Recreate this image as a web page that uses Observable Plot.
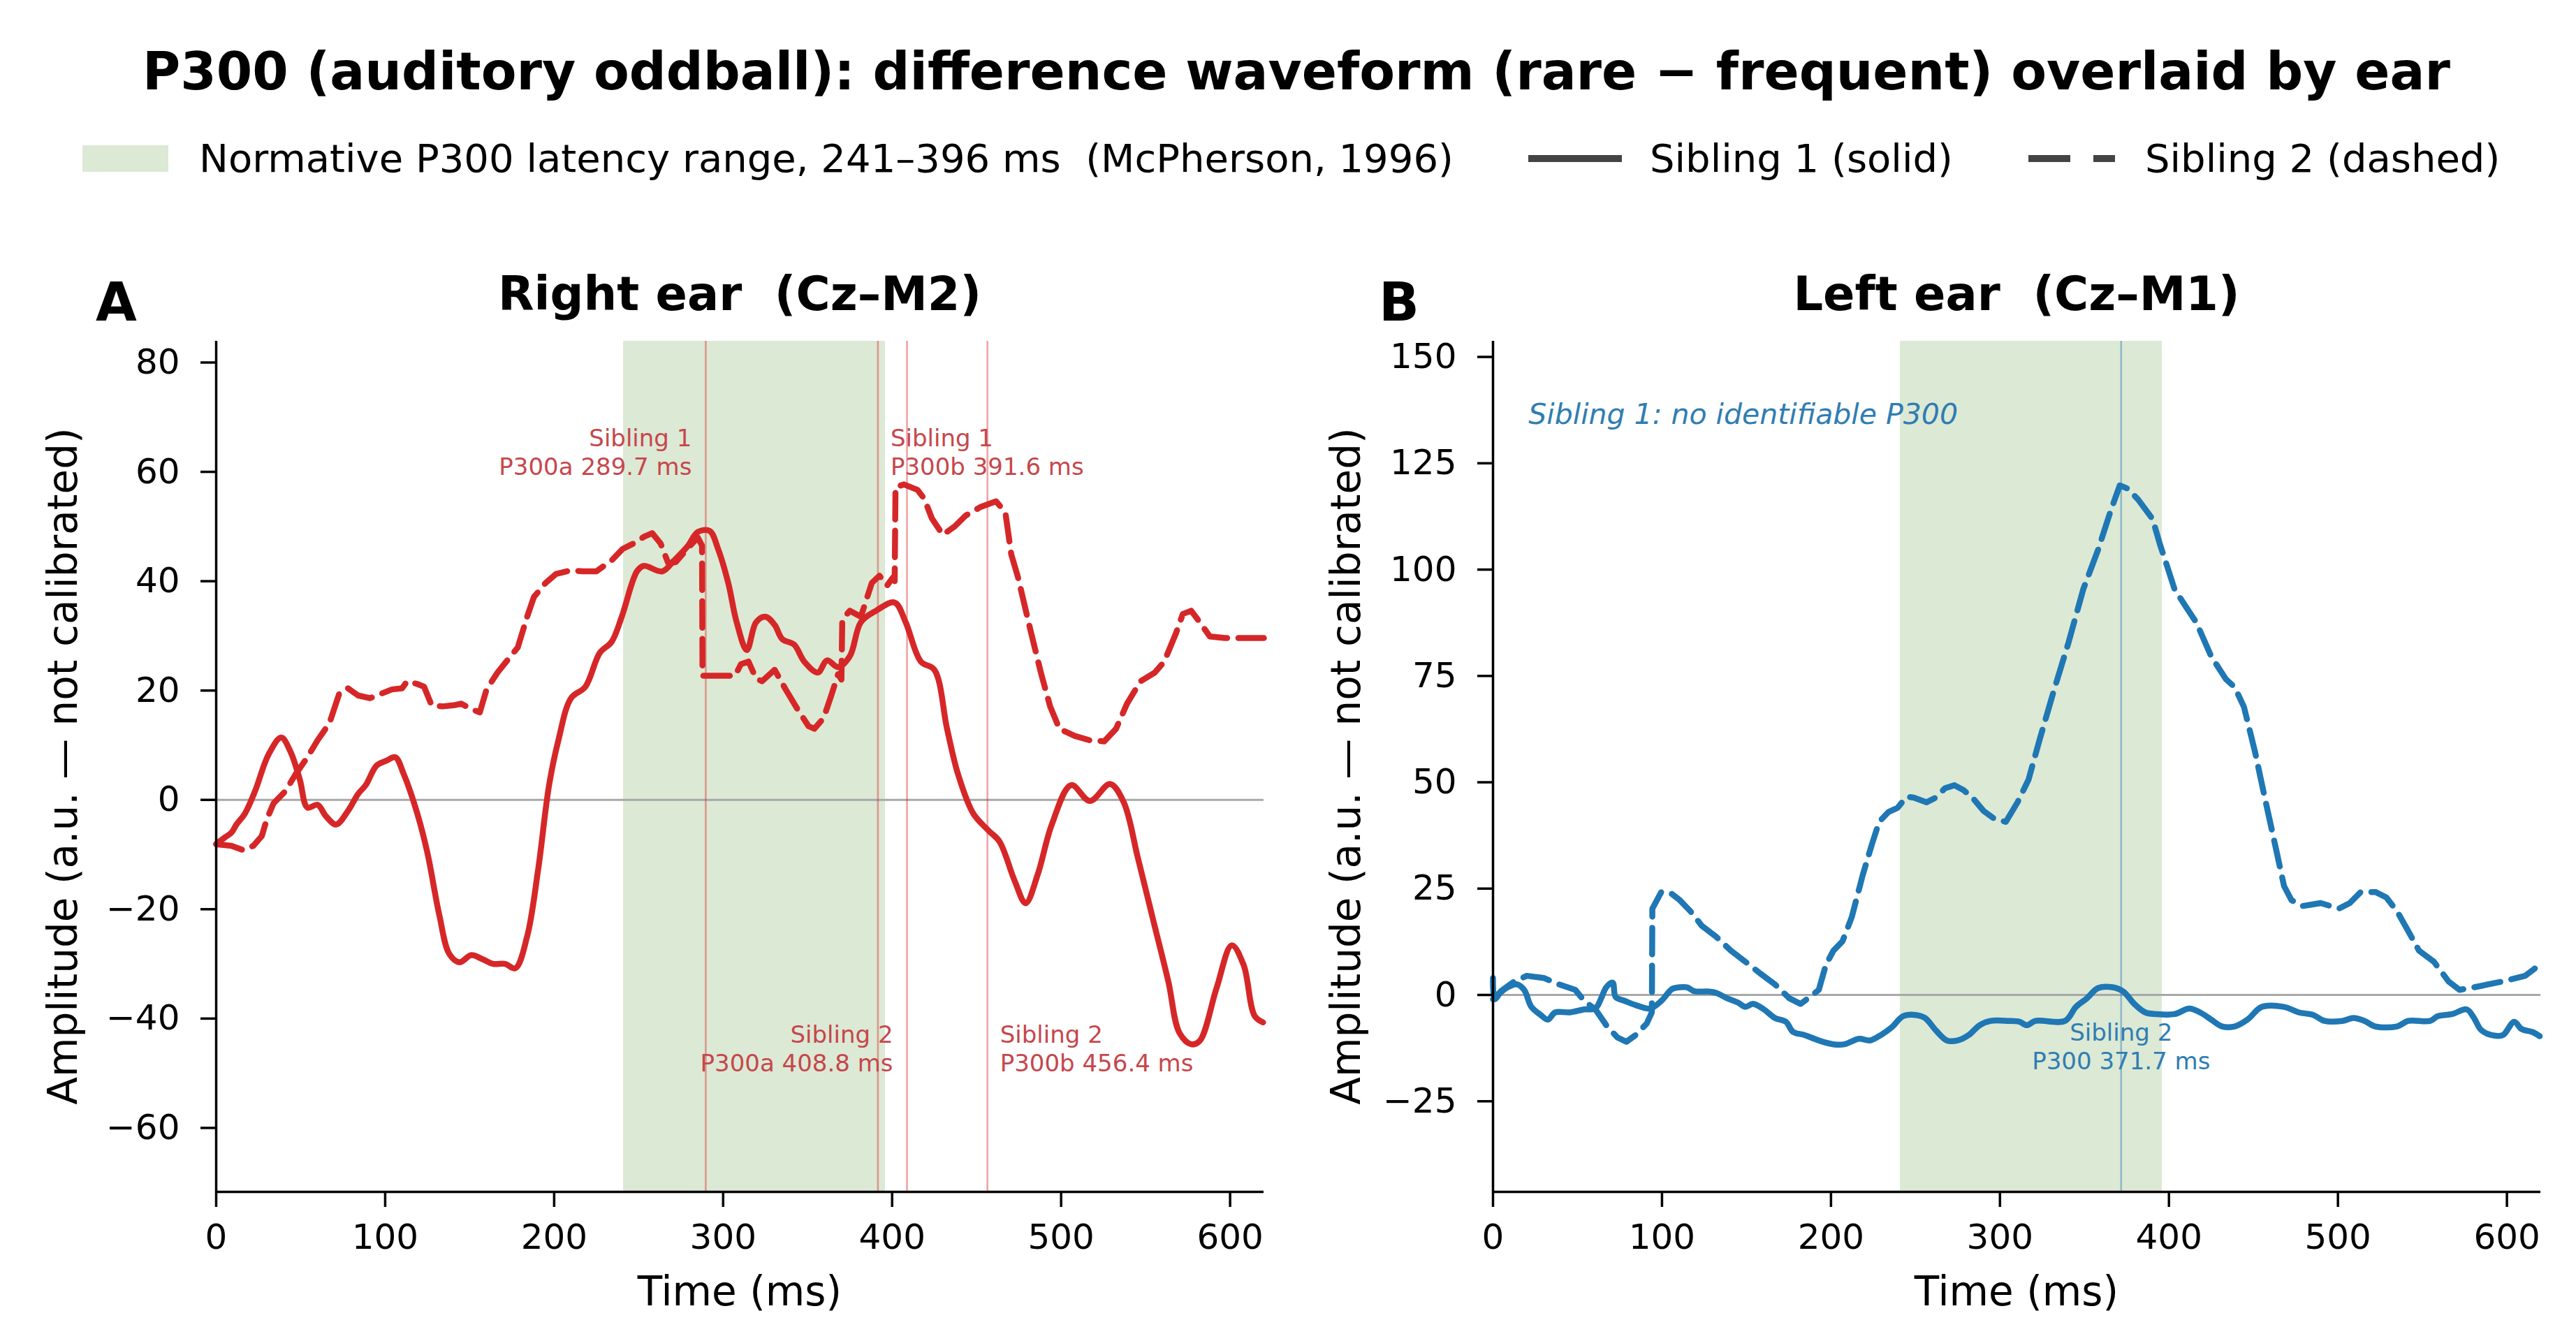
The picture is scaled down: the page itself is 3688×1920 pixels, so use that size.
<!DOCTYPE html>
<html><head><meta charset="utf-8">
<script src="https://cdn.jsdelivr.net/npm/d3@7"></script>
<script src="https://cdn.jsdelivr.net/npm/@observablehq/plot@0.6"></script>
<style>
html,body{margin:0;padding:0;background:#fff;}
#root{position:relative;width:3688px;height:1920px;overflow:hidden;font-family:"DejaVu Sans";color:#000;background:#fff;}
.t{position:absolute;white-space:pre;line-height:1;}
.panel{position:absolute;}
</style></head><body><div id="root"></div>
<script>
// ---------------- data ----------------
const xTicks = [0, 100, 200, 300, 400, 500, 600];
const xDomain = [0, 620];
const normRange = [241, 396];

// Right ear (Cz–M2), [time ms, amplitude a.u.]
const rightEarSib1 = [[0,-8.1],[5,-6.9],[9,-6],[12,-4.5],[17,-2.5],[23,1.6],[31,8.3],[38.5,11.4],[44,8.8],[49.5,3.7],[54,-1.4],[60,-0.9],[65,-3],[71,-4.5],[78,-2],[84,1.1],[88.5,2.7],[95,6.3],[101,7.2],[106,7.8],[111,4.7],[119,-2.5],[125,-9.7],[132,-21],[138,-28.2],[144,-29.7],[151,-28.4],[158,-29.2],[164,-30],[171,-30],[177,-30.8],[184,-25],[190.5,-12.8],[197,2.7],[202.5,10.9],[210,18.6],[218.5,20.7],[227,26.9],[234,28.9],[240,33.5],[249,41.8],[253,42.8],[264,41.8],[271,43.8],[279,46.4],[285,49],[292,49.2],[297,45.9],[303,39.7],[308,32.5],[314,27.4],[319.5,32.5],[325,33.5],[330.5,32],[335,29.4],[342,28.4],[348,25.3],[356,23.3],[361.5,25.5],[368,24.3],[375,26.3],[381.5,32.5],[390.5,34.6],[401.5,36.1],[408,32.5],[417,25.3],[425,23.8],[432.5,13],[439,4.7],[448,-2.5],[457,-5.6],[463.5,-7.6],[472.5,-14.8],[479,-18.9],[486,-13.8],[494.5,-4.5],[506,2.7],[517,-0.2],[529,2.9],[537,-0.4],[545.5,-10.7],[554.5,-22],[563.5,-33.3],[570,-42.6],[577,-44.7],[582,-44.1],[592,-34.4],[601,-26.6],[608,-30.2],[614.5,-39.5],[619.5,-40.7]];
const rightEarSib2 = [[0,-8.1],[9,-8.4],[16,-9.2],[22,-8.4],[27,-6.6],[30,-3.5],[34,-0.6],[41,1.6],[47,4.7],[54,7.8],[60,10.9],[67,14],[73,19.6],[78,20.4],[84,19.1],[91,18.6],[104,20.2],[110,20.4],[113,21.7],[119,21.2],[123,20.7],[127.5,17.3],[134,17.1],[140.5,17.3],[145,17.6],[151,16.6],[156,16],[160,20.2],[166.5,23.3],[173,25.8],[178.5,27.9],[184,33.5],[188,37.1],[195,39.7],[201,41.3],[210,42],[217,41.8],[225,41.8],[234,43.8],[240.5,45.9],[247,46.9],[253,48.1],[258,48.8],[263,46.9],[267.5,43.3],[272,43.5],[279,46],[285,48],[287.5,46.5],[287.8,22.7],[296,22.7],[307,22.7],[310.5,24.8],[315,25.3],[319.5,22.2],[323,21.7],[330.5,23.8],[337,20.2],[344,16.6],[350.5,13.5],[354,13],[359.5,15],[364,19.1],[368,23],[370,22],[370.5,33],[375,34.6],[381.5,33.5],[388,39.7],[392.5,41],[397,39.2],[400.5,40.7],[401.5,40],[402,57.2],[407,57.7],[415,56.7],[419,55.1],[423.5,51.5],[430,48.5],[437,50],[443.5,52],[452.5,53.6],[457,54.1],[461.5,54.6],[467,52.6],[470.5,44.9],[474.5,40.7],[481.5,31.5],[488,23.3],[493.5,17.1],[499,13],[508,11.7],[517,10.9],[525.5,10.7],[532.5,13],[539,17.6],[547,21.7],[555.5,23.3],[561,25.3],[568,30.5],[572,34],[577,34.6],[582,32.5],[588,29.9],[597,29.6],[620,29.6]];

// Left ear (Cz–M1), [time ms, amplitude a.u.]
const leftEarSib1 = [[0,4],[1,-1],[4.3,0.5],[8.7,1.8],[14,2.5],[18.4,1.2],[22.7,-2.8],[28.2,-4.7],[32.5,-5.8],[36.8,-4.1],[45.5,-4.1],[54,-3.4],[60.5,-3.2],[64,-0.8],[67,1.8],[70.8,2.9],[72.6,-0.5],[78,-1.4],[84.5,-2.4],[93,-3.2],[99.6,-1.4],[106,1.4],[110.5,1.8],[114.8,1.8],[119,0.9],[127.8,0.8],[132,0.5],[138.6,-0.8],[145,-1.8],[149.4,-2.8],[153.8,-2.1],[160.3,-3.4],[166.8,-5.4],[173.3,-6.3],[177.6,-8.7],[184.1,-9.4],[192.8,-10.7],[201.4,-11.6],[208,-11.6],[216.6,-10.3],[223,-10.7],[229.6,-9.4],[236,-7.6],[242.6,-5],[250,-4.7],[255.6,-5.4],[262,-8.3],[268.6,-10.7],[275,-10.7],[281.6,-9.4],[288,-7.1],[294.6,-6.1],[305,-6.1],[311.5,-6.3],[315.8,-7.1],[321,-6.1],[338.5,-6.1],[345,-2.8],[351.4,-0.8],[358,1.6],[366.6,1.8],[373,0.8],[379.5,-2.1],[386,-4.1],[392.5,-4.5],[403.3,-4.5],[412,-3.2],[418.4,-4.1],[425,-5.8],[431.4,-7.4],[439,-7.4],[446.5,-5.8],[455,-2.8],[468,-2.8],[476.8,-4.1],[485.4,-4.7],[492,-6.1],[502.7,-6.1],[509.2,-5.4],[515.7,-6.1],[522,-7.4],[535,-7.4],[541.6,-6.1],[554.6,-6.1],[559,-5],[567.6,-4.5],[576.2,-3.4],[580.5,-5.4],[584.9,-8.3],[593.5,-9.6],[597.8,-9.4],[604.3,-6.3],[608.6,-8],[615,-8.7],[619.4,-9.7]];
const leftEarSib2 = [[0,-1],[5,1],[12,3],[20,4.5],[30,4],[39,2.5],[48.7,1.2],[54,-1.4],[60.6,-3.4],[67,-7.1],[73.6,-10],[79,-11],[84.5,-9.4],[91,-6.7],[94,-4.1],[94.3,20.3],[99.6,24.2],[105,24],[110.5,22.3],[117,19.6],[123.5,16.3],[132,13.7],[140.8,10.4],[149.4,7.8],[158,5.1],[166.8,2.5],[175.4,-0.8],[182,-2.1],[187.4,-0.5],[192.8,1.2],[197,7.1],[201.4,10.4],[206.8,12.6],[212.3,18.3],[218.8,28.2],[224.2,35.4],[228.5,40.7],[234,43],[239.4,44],[244.7,46.6],[249,46.4],[256.6,45.3],[262,46.4],[267.5,48.6],[273,49.3],[278.3,48.2],[283.7,46.4],[290.2,43.3],[296.7,41.4],[303.5,40.7],[310.4,45.3],[316.9,50.6],[323.3,59.8],[332,71.7],[340.6,82.9],[349.3,95.4],[358,104.6],[365.5,113.8],[370.9,119.8],[375.2,119.1],[381.7,116.5],[390.3,111.9],[394.7,105.9],[399,100.7],[403.3,95.4],[409.8,91.4],[416.3,87.5],[425,79.6],[433.6,74.3],[439,72.3],[444.4,67.7],[450.9,57.2],[457.3,45.3],[463.8,33.5],[468.1,25.6],[472.5,22.3],[479,20.9],[489.8,21.6],[500.6,20.3],[507,21.6],[513.5,24.2],[522.2,24.2],[528.7,22.9],[535.1,19.6],[541.6,15],[548,10.4],[556.8,7.8],[565.4,3.2],[571.9,1.2],[580.5,1.8],[597.8,3.2],[610.8,4.5],[619.4,7.1]];

// y axes
const rightEarYDomain = [-71.7, 83.9];
const rightEarYTicks = [-60, -40, -20, 0, 20, 40, 60, 80];
const leftEarYDomain = [-46.3, 153.7];
const leftEarYTicks = [-25, 0, 25, 50, 75, 100, 125, 150];

// peak latencies
const rightEarPeaks = [
  {sibling: "Sibling 1", name: "P300a", t: 289.7},
  {sibling: "Sibling 1", name: "P300b", t: 391.6},
  {sibling: "Sibling 2", name: "P300a", t: 408.8},
  {sibling: "Sibling 2", name: "P300b", t: 456.4}
];
const leftEarPeaks = [{sibling: "Sibling 2", name: "P300", t: 371.7}];
const labelLevelTop = {rightEar: 59.4};
const labelLevelBottom = {rightEar: -49.6, leftEar: -17.5};
const noPeakNote = {text: "Sibling 1: no identifiable P300", t: 21, y: 134.2};

// ---------------- style ----------------
const RED = "#d62728", BLUE = "#1f77b4", BAND = "#dce9d5";
const RED_TEXT = "#c6474c", BLUE_TEXT = "#2f7db2";
const FONT = "DejaVu Sans";
const root = document.getElementById("root");

function addText(txt, x, y, opts = {}) {
  const d = document.createElement("div");
  d.className = "t";
  d.textContent = txt;
  d.style.left = x + "px";
  d.style.top = y + "px";
  d.style.fontSize = (opts.size || 50) + "px";
  if (opts.bold) d.style.fontWeight = "bold";
  const tx = opts.anchor === "middle" ? "-50%" : opts.anchor === "end" ? "-100%" : "0";
  d.style.transform = `translate(${tx},-50%)` + (opts.rotate ? " rotate(-90deg)" : "");
  if (opts.rotate) d.style.transformOrigin = "50% 50%";
  root.appendChild(d);
  return d;
}

const tx = d => d[0], ty = d => d[1];

function panel({sib1, sib2, color, yDomain, yTicks, marginLeft, marginRight, extra}) {
  return Plot.plot({
    width: 1844, height: 1540,
    marginLeft, marginRight, marginTop: 108, marginBottom: 214,
    x: {domain: xDomain},
    y: {domain: yDomain},
    style: {fontFamily: FONT, fontSize: "50px", color: "#000", background: "transparent", overflow: "visible"},
    marks: [
      Plot.rect([normRange], {x1: d => d[0], x2: d => d[1], fill: BAND}),
      Plot.ruleY([0], {stroke: "#a8a8a8", strokeWidth: 3}),
      ...extra.before,
      Plot.line(sib1, {x: tx, y: ty, stroke: color, strokeWidth: 8.5, curve: "catmull-rom", strokeLinejoin: "round", strokeLinecap: "round"}),
      Plot.line(sib2, {x: tx, y: ty, stroke: color, strokeWidth: 8.5, strokeDasharray: "38,16", strokeLinejoin: "round"}),
      ...extra.after,
      Plot.axisX({ticks: xTicks, tickSize: 22, tickPadding: 24, strokeWidth: 3.5, fontSize: 50, label: null}),
      Plot.axisY({ticks: yTicks, tickSize: 22, tickPadding: 30, strokeWidth: 3.5, fontSize: 50, label: null}),
      Plot.ruleX([xDomain[0]], {stroke: "#000", strokeWidth: 3.5}),
      Plot.ruleY([yDomain[0]], {stroke: "#000", strokeWidth: 3.5})
    ]
  });
}

const peakLabel = d => `${d.sibling}\n${d.name} ${d.t.toFixed(1)} ms`;
const annoStyle = {fontSize: 34, lineHeight: 1.2, fontFamily: FONT};

const right = panel({
  sib1: rightEarSib1, sib2: rightEarSib2, color: RED,
  yDomain: rightEarYDomain, yTicks: rightEarYTicks, marginLeft: 309, marginRight: 35,
  extra: {
    before: [Plot.ruleX(rightEarPeaks, {x: "t", stroke: RED, strokeOpacity: 0.42, strokeWidth: 2.6})],
    after: [
      Plot.text(rightEarPeaks.filter(d => d.name === "P300a"), {x: "t", y: d => d.sibling === "Sibling 1" ? labelLevelTop.rightEar : labelLevelBottom.rightEar, text: peakLabel, textAnchor: "end", lineAnchor: "bottom", dx: -20, fill: RED_TEXT, ...annoStyle}),
      Plot.text(rightEarPeaks.filter(d => d.name === "P300b"), {x: "t", y: d => d.sibling === "Sibling 1" ? labelLevelTop.rightEar : labelLevelBottom.rightEar, text: peakLabel, textAnchor: "start", lineAnchor: "bottom", dx: 18, fill: RED_TEXT, ...annoStyle})
    ]
  }
});
const left = panel({
  sib1: leftEarSib1, sib2: leftEarSib2, color: BLUE,
  yDomain: leftEarYDomain, yTicks: leftEarYTicks, marginLeft: 293, marginRight: 51,
  extra: {
    before: [Plot.ruleX(leftEarPeaks, {x: "t", stroke: BLUE, strokeOpacity: 0.42, strokeWidth: 2.6})],
    after: [
      Plot.text(leftEarPeaks, {x: "t", y: labelLevelBottom.leftEar, text: peakLabel, textAnchor: "middle", lineAnchor: "bottom", fill: BLUE_TEXT, ...annoStyle}),
      Plot.text([noPeakNote], {x: "t", y: "y", text: "text", textAnchor: "start", lineAnchor: "bottom", fontStyle: "italic", fontSize: 41, fontFamily: FONT, fill: BLUE_TEXT})
    ]
  }
});

right.classList.add("panel"); right.style.left = "0px"; right.style.top = "380px";
left.classList.add("panel"); left.style.left = "1844px"; left.style.top = "380px";
root.appendChild(right);
root.appendChild(left);

// ---------------- titles, labels, legend ----------------
addText("P300 (auditory oddball): difference waveform (rare \u2212 frequent) overlaid by ear", 1856, 102, {size: 74, bold: true, anchor: "middle"});
addText("Right ear  (Cz\u2013M2)", 1059, 421, {size: 67, bold: true, anchor: "middle"});
addText("Left ear  (Cz\u2013M1)", 2887, 421, {size: 67, bold: true, anchor: "middle"});
addText("A", 137, 433, {size: 76, bold: true});
addText("B", 1974, 433, {size: 76, bold: true});
addText("Time (ms)", 1059, 1849, {size: 58, anchor: "middle"});
addText("Time (ms)", 2887, 1849, {size: 58, anchor: "middle"});
addText("Amplitude (a.u. \u2014 not calibrated)", 90, 1097, {size: 58, anchor: "middle", rotate: true});
addText("Amplitude (a.u. \u2014 not calibrated)", 1927, 1097, {size: 58, anchor: "middle", rotate: true});

// legend
const legendItems = [
  {kind: "patch", label: "Normative P300 latency range, 241\u2013396 ms  (McPherson, 1996)", x: 118, w: 123, tx: 285},
  {kind: "solid", label: "Sibling 1 (solid)", x: 2188, w: 134, tx: 2362},
  {kind: "dashed", label: "Sibling 2 (dashed)", x: 2904, w: 124, tx: 3071}
];
const legendY = 227;
const ns = "http://www.w3.org/2000/svg";
for (const it of legendItems) {
  const svg = document.createElementNS(ns, "svg");
  svg.setAttribute("width", it.w); svg.setAttribute("height", 40);
  svg.style.position = "absolute"; svg.style.left = it.x + "px"; svg.style.top = (legendY - 20) + "px";
  if (it.kind === "patch") {
    const r = document.createElementNS(ns, "rect");
    r.setAttribute("x", 0); r.setAttribute("y", 1); r.setAttribute("width", it.w); r.setAttribute("height", 38);
    r.setAttribute("fill", BAND); svg.appendChild(r);
  } else {
    const l = document.createElementNS(ns, "line");
    l.setAttribute("x1", 0); l.setAttribute("x2", it.w); l.setAttribute("y1", 20); l.setAttribute("y2", 20);
    l.setAttribute("stroke", "#444"); l.setAttribute("stroke-width", 10);
    if (it.kind === "dashed") l.setAttribute("stroke-dasharray", "60,33");
    svg.appendChild(l);
  }
  root.appendChild(svg);
  addText(it.label, it.tx, legendY, {size: 56});
}
</script></body></html>
